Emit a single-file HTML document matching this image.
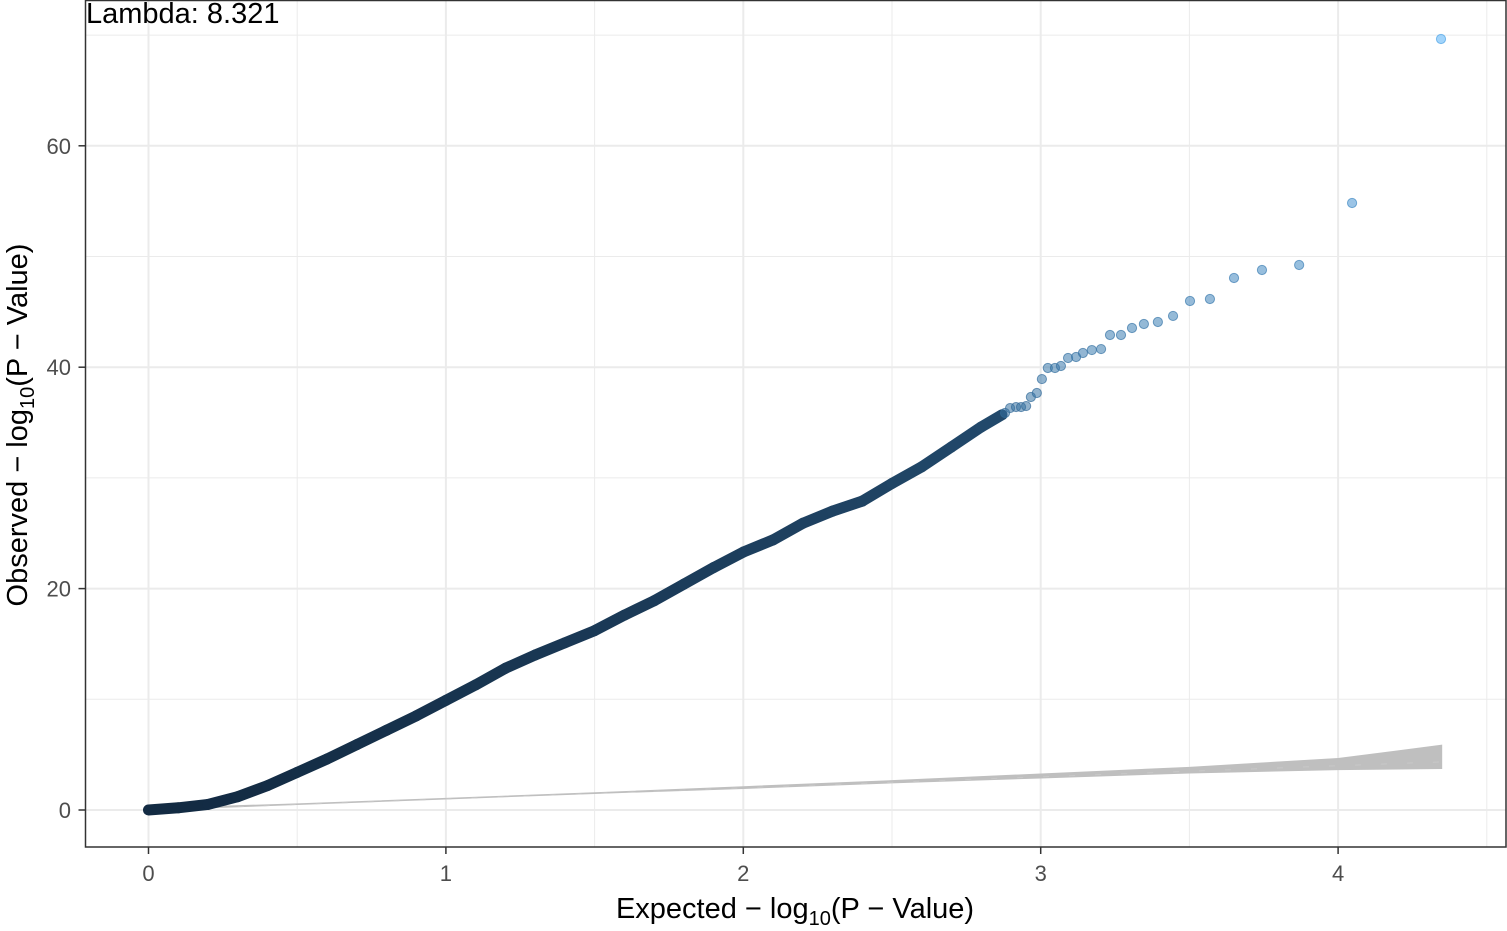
<!DOCTYPE html>
<html><head><meta charset="utf-8"><style>
html,body{margin:0;padding:0;background:#fff}
svg text{font-family:"Liberation Sans",Arial,sans-serif}
</style></head><body>
<svg id="chart" width="1507" height="926" viewBox="0 0 1507 926">
<rect x="0" y="0" width="1507" height="926" fill="#fff"/>
<g id="grid"></g>
<g id="band"></g>
<g id="series"></g>
<rect x="85.5" y="0.5" width="1420.5" height="846.5" fill="none" stroke="#333" stroke-width="1.5"/>
<g id="axes"></g>
<text x="86" y="23" font-size="29" fill="#000">Lambda:  8.321</text>
<text x="795" y="918" font-size="29" fill="#000" text-anchor="middle">Expected  − log<tspan font-size="20" dy="7">10</tspan><tspan dy="-7">(P − Value)</tspan></text>
<text transform="translate(27,425) rotate(-90)" font-size="29" fill="#000" text-anchor="middle">Observed  − log<tspan font-size="20" dy="7">10</tspan><tspan dy="-7">(P − Value)</tspan></text>
</svg>
<script>
const xTicks=[0,1,2,3,4];
const yTicks=[0,20,40,60];
const xMinor=[0.5,1.5,2.5,3.5,4.5];
const yMinor=[10,30,50,70];
const denseX=[0,0.1,0.2,0.3,0.4,0.5,0.6,0.7,0.8,0.9,1.0,1.1,1.2,1.3,1.4,1.5,1.6,1.7,1.8,1.9,2.0,2.1,2.2,2.3,2.4,2.5,2.6,2.7,2.8,2.87];
const denseY=[0,0.2,0.5,1.2,2.2,3.4,4.6,5.9,7.2,8.5,9.9,11.3,12.8,14.0,15.1,16.2,17.6,18.9,20.4,21.9,23.3,24.4,25.9,27.0,27.9,29.5,31.0,32.8,34.6,35.7];
const ptX=[2.880,2.897,2.917,2.934,2.951,2.967,2.987,3.004,3.024,3.048,3.068,3.092,3.119,3.142,3.172,3.203,3.233,3.270,3.307,3.347,3.394,3.445,3.502,3.569,3.650,3.744,3.869,4.047,4.346];
const ptY=[35.86,36.31,36.40,36.40,36.49,37.31,37.67,38.93,39.93,39.93,40.11,40.83,40.92,41.28,41.55,41.64,42.91,42.91,43.54,43.90,44.08,44.63,45.98,46.16,48.06,48.78,49.23,54.83,69.65];
const bandX=[0.2,0.5,1,1.5,2,2.5,3,3.5,4,4.35];
const bandHi=[0.35,0.6,1.1,1.6,2.15,2.7,3.3,3.9,4.7,5.9];
const bandLo=[0.15,0.45,0.95,1.45,1.9,2.4,2.85,3.3,3.6,3.7];
const lineX=[0.3,4.35];

const NS='http://www.w3.org/2000/svg';
const X=v=>148.5+v*297.4;
const Y=v=>810-v*11.07;
const L=85.5,R=1506,T=0.5,B=847;
function mk(tag,attrs,parent){const e=document.createElementNS(NS,tag);for(const k in attrs)e.setAttribute(k,attrs[k]);parent.appendChild(e);return e;}
const grid=document.getElementById('grid'),axes=document.getElementById('axes');
xMinor.forEach(v=>{const e=mk('line',{x1:X(v),x2:X(v),y1:T,y2:B,stroke:'#ebebeb','stroke-width':1},grid);

});
yMinor.forEach(v=>{const e=mk('line',{x1:L,x2:R,y1:Y(v),y2:Y(v),stroke:'#ebebeb','stroke-width':1},grid);

});
xTicks.forEach(v=>{const e=mk('line',{x1:X(v),x2:X(v),y1:T,y2:B,stroke:'#ebebeb','stroke-width':2},grid);


const t=mk('line',{x1:X(v),x2:X(v),y1:B,y2:B+7,stroke:'#333','stroke-width':1.5},axes);


const l=mk('text',{x:X(v),y:881,'font-size':22,fill:'#4d4d4d','text-anchor':'middle'},axes);l.textContent=v;

});
yTicks.forEach(v=>{const e=mk('line',{x1:L,x2:R,y1:Y(v),y2:Y(v),stroke:'#ebebeb','stroke-width':2},grid);


const t=mk('line',{x1:L-7,x2:L,y1:Y(v),y2:Y(v),stroke:'#333','stroke-width':1.5},axes);


const l=mk('text',{x:71,y:Y(v)+8,'font-size':22,fill:'#4d4d4d','text-anchor':'end'},axes);l.textContent=v;

});
// band
const band=document.getElementById('band');
let d='M'+bandX.map((x,i)=>X(x)+','+Y(bandHi[i])).join(' L');
for(let i=bandX.length-1;i>=0;i--)d+=' L'+X(bandX[i])+','+Y(bandLo[i]);
const bp=mk('path',{d:d+'Z',fill:'#bfbfbf',stroke:'none'},band);


const dl=mk('line',{x1:X(lineX[0]),y1:Y(lineX[0]),x2:X(lineX[1]),y2:Y(lineX[1]),stroke:'#c8c8c8','stroke-width':1,'stroke-dasharray':'6,20'},band);


// colors
const maxY=Math.max(...ptY);
function col(v,k){const t=Math.min(1,v/maxY)*k;const a=[19,43,67],b=[86,177,247];return 'rgb('+a.map((c,i)=>Math.round(c+(b[i]-c)*t)).join(',')+')';}
const ser=document.getElementById('series');
for(let i=0;i<denseX.length-1;i++){const s=mk('line',{x1:X(denseX[i]),y1:Y(denseY[i]),x2:X(denseX[i+1]),y2:Y(denseY[i+1]),stroke:col(denseY[i],0.45),'stroke-width':11,'stroke-linecap':'round'},ser);

}
ptX.forEach((x,i)=>{const c=mk('circle',{cx:X(x),cy:Y(ptY[i]),r:4.6,fill:col(ptY[i],1),'fill-opacity':0.55,stroke:col(ptY[i],0.9),'stroke-opacity':0.7,'stroke-width':1},ser);

});
</script>
</body></html>
